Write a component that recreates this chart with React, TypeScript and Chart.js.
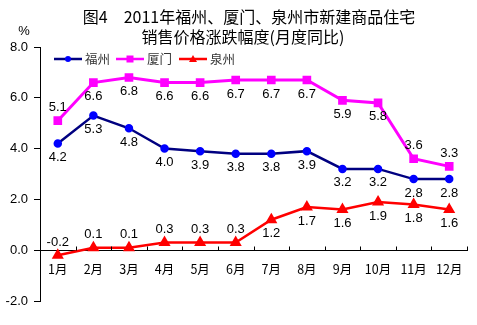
import React, { useEffect, useRef } from 'react';
import { Chart, registerables } from 'chart.js';

Chart.register(...registerables);

const months = ['1月', '2月', '3月', '4月', '5月', '6月', '7月', '8月', '9月', '10月', '11月', '12月'];
const fuzhou = [4.2, 5.3, 4.8, 4.0, 3.9, 3.8, 3.8, 3.9, 3.2, 3.2, 2.8, 2.8];
const xiamen = [5.1, 6.6, 6.8, 6.6, 6.6, 6.7, 6.7, 6.7, 5.9, 5.8, 3.6, 3.3];
const quanzhou = [-0.2, 0.1, 0.1, 0.3, 0.3, 0.3, 1.2, 1.7, 1.6, 1.9, 1.8, 1.6];
const seriesNames = ['福州', '厦门', '泉州'];
const titleLines = ['图4　2011年福州、厦门、泉州市新建商品住宅', '销售价格涨跌幅度(月度同比)'];
const unitLabel = '%';
const yMin = -2;
const yMax = 8;
const yStep = 2;
// label placement: a = above point, b = below point
const fuzhouLabelPos = ['b', 'b', 'b', 'b', 'b', 'b', 'b', 'b', 'b', 'b', 'b', 'b'];
const xiamenLabelPos = ['a', 'b', 'b', 'b', 'b', 'b', 'b', 'b', 'b', 'b', 'a', 'a'];
const quanzhouLabelPos = ['a', 'a', 'a', 'a', 'a', 'a', 'b', 'b', 'b', 'b', 'b', 'b'];

const FONT = '"Liberation Sans", Arial, sans-serif';
const CJK = '"Noto Sans CJK SC", "Noto Sans", sans-serif';

const decorPlugin = {
  id: 'decor',
  afterDraw(chart: any) {
    const ctx = chart.ctx;
    const xs = chart.scales.x;
    const ys = chart.scales.y;
    ctx.save();

    // Title
    ctx.fillStyle = '#000';
    ctx.textAlign = 'center';
    ctx.textBaseline = 'middle';
    ctx.font = `16px ${CJK}`;
    ctx.fillText(titleLines[0], 249, 17);
    ctx.fillText(titleLines[1], 243, 37);

    // Unit label
    ctx.font = `13px ${FONT}`;
    ctx.fillText(unitLabel, 24, 31);

    // X tick marks pointing up
    const zeroY = Math.round(ys.getPixelForValue(0)) + 0.5;
    const step = xs.getPixelForValue(1) - xs.getPixelForValue(0);
    ctx.strokeStyle = '#000';
    ctx.lineWidth = 1;
    ctx.beginPath();
    for (let i = 0; i <= months.length; i++) {
      const x = Math.round(xs.getPixelForValue(0) - step / 2 + i * step) + 0.5;
      ctx.moveTo(x, zeroY);
      ctx.lineTo(x, zeroY - 4);
    }
    ctx.stroke();

    // Legend
    const legendY = 59;
    const items = [
      { x: 54, line: '#000080', fill: '#0000ff', style: 'circle' },
      { x: 116, line: '#ff00ff', fill: '#ff00ff', style: 'rect' },
      { x: 179, line: '#ff0000', fill: '#ff0000', style: 'triangle' },
    ];
    items.forEach((it, i) => {
      ctx.strokeStyle = it.line;
      ctx.lineWidth = 2.5;
      ctx.beginPath();
      ctx.moveTo(it.x, legendY);
      ctx.lineTo(it.x + 28, legendY);
      ctx.stroke();
      ctx.fillStyle = it.fill;
      const cx = it.x + 14;
      ctx.beginPath();
      if (it.style === 'circle') {
        ctx.arc(cx, legendY, 3, 0, Math.PI * 2);
      } else if (it.style === 'rect') {
        ctx.rect(cx - 3.5, legendY - 3.5, 7, 7);
      } else {
        ctx.moveTo(cx, legendY - 4);
        ctx.lineTo(cx + 4, legendY + 3);
        ctx.lineTo(cx - 4, legendY + 3);
        ctx.closePath();
      }
      ctx.fill();
      ctx.fillStyle = '#333';
      ctx.font = `12.5px ${CJK}`;
      ctx.textAlign = 'left';
      ctx.textBaseline = 'middle';
      ctx.fillText(seriesNames[i], it.x + 31, legendY);
    });

    // Data labels
    ctx.fillStyle = '#000';
    ctx.font = `13px ${FONT}`;
    ctx.textAlign = 'center';
    ctx.textBaseline = 'middle';
    chart.data.datasets.forEach((ds: any, di: number) => {
      const meta = chart.getDatasetMeta(di);
      meta.data.forEach((pt: any, i: number) => {
        const pos = ds.labelPos[i];
        const y = pos === 'a' ? pt.y - 13 : pt.y + 14;
        ctx.fillText(ds.data[i].toFixed(1), pt.x, y);
      });
    });

    ctx.restore();
  },
};

export default function App() {
  const ref = useRef<HTMLCanvasElement | null>(null);

  useEffect(() => {
    document.body.style.margin = '0';
    const canvas = ref.current!;
    const chart = new Chart(canvas, {
      type: 'line',
      data: {
        labels: months,
        datasets: [
          {
            label: seriesNames[0],
            data: fuzhou,
            borderColor: '#000080',
            backgroundColor: '#0000ff',
            pointBackgroundColor: '#0000ff',
            pointBorderColor: '#0000ff',
            pointStyle: 'circle',
            pointRadius: 3,
            borderWidth: 2.5,
            tension: 0,
            labelPos: fuzhouLabelPos,
          } as any,
          {
            label: seriesNames[1],
            data: xiamen,
            borderColor: '#ff00ff',
            backgroundColor: '#ff00ff',
            pointBackgroundColor: '#ff00ff',
            pointBorderColor: '#ff00ff',
            pointStyle: 'rect',
            pointRadius: 4,
            borderWidth: 3,
            tension: 0,
            labelPos: xiamenLabelPos,
          } as any,
          {
            label: seriesNames[2],
            data: quanzhou,
            borderColor: '#ff0000',
            backgroundColor: '#ff0000',
            pointBackgroundColor: '#ff0000',
            pointBorderColor: '#ff0000',
            pointStyle: 'triangle',
            pointRadius: 4.5,
            borderWidth: 2.5,
            tension: 0,
            labelPos: quanzhouLabelPos,
          } as any,
        ],
      },
      options: {
        responsive: false,
        animation: false,
        devicePixelRatio: 1,
        layout: { padding: { top: 47, right: 10, bottom: 24, left: 0 } },
        plugins: {
          legend: { display: false },
          title: { display: false },
          tooltip: { enabled: false },
        },
        scales: {
          x: {
            type: 'category',
            offset: true,
            position: { y: 0 } as any,
            grid: { display: false, drawTicks: false },
            border: { display: true, color: '#000', width: 1 },
            ticks: {
              color: '#000',
              font: { family: CJK, size: 12.5 },
              padding: 12,
              maxRotation: 0,
              autoSkip: false,
            },
          },
          y: {
            min: yMin,
            max: yMax,
            afterFit: (s: any) => {
              s.width = 40;
            },
            grid: { display: true, drawOnChartArea: false, drawTicks: true, tickLength: 6, color: '#000' },
            border: { display: true, color: '#000', width: 1 },
            ticks: {
              stepSize: yStep,
              color: '#000',
              font: { family: FONT, size: 13 },
              padding: 6,
              callback: (v: any) => Number(v).toFixed(1),
            },
          },
        },
      },
      plugins: [decorPlugin],
    });
    return () => chart.destroy();
  }, []);

  return <canvas ref={ref} width={477} height={325} style={{ display: 'block' }} />;
}
